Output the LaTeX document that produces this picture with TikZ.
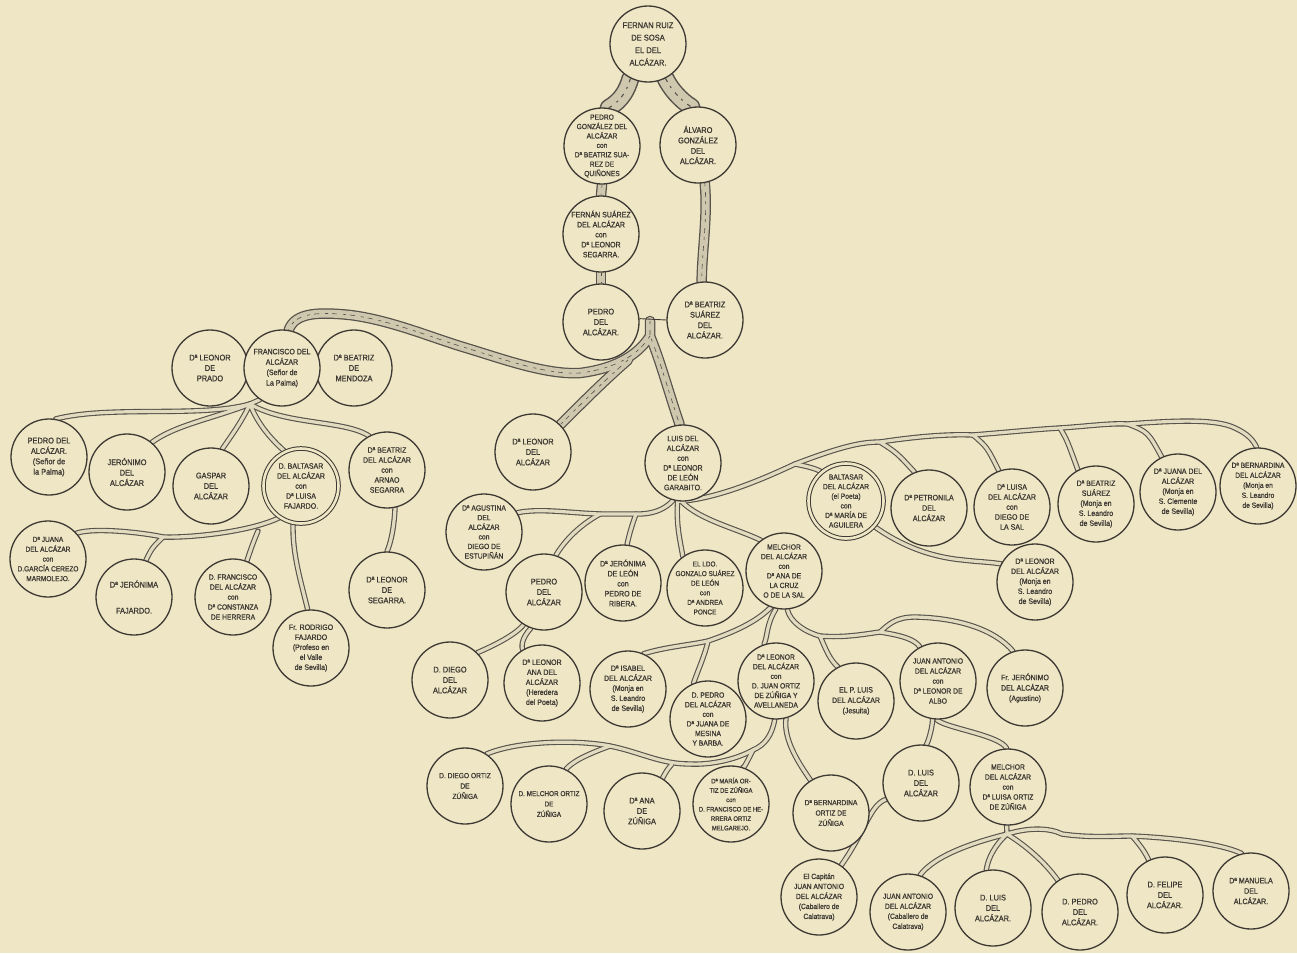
\documentclass[tikz,border=0pt]{standalone}
\usepackage{fontspec}
\setmainfont[FakeStretch=0.9,FakeBold=0.9]{Liberation Sans}
\definecolor{paper}{HTML}{EEE6C4}
\definecolor{ink}{HTML}{3E3934}
\definecolor{bark}{HTML}{57524B}
\definecolor{wood}{HTML}{E2DBC0}
\definecolor{woodd}{HTML}{CFC8AE}
\pgfdeclarelayer{bgl}
\pgfdeclarelayer{brl}
\pgfsetlayers{bgl,brl,main}
\newcommand\pers[4][]{\node[person] (#2) at (#3) {};\node[ptext,#1] (#2t) at (#2.center) {#4};}
\newcommand\perd[4][]{\node[twin] (#2) at (#3) {};\node[ptext,#1] (#2t) at (#2.center) {#4};}
\newcommand\allbranches{%
% trunk
\draw[tk] (fr.243) .. controls (627,90) and (622,100) .. (pg.80);
\draw[tk] (fr.297) .. controls (670,88) and (680,100) .. (al.100);
\draw[md] (pg.270) -- (fs.90);
\draw[md] (fs.270) -- (pd.90);
\draw[md] (al.280) .. controls (708,215) and (702,250) .. (bs.95);
% Pedro + Beatriz
\draw[md] (j0) .. controls (640,352) and (620,368) .. (580,373) .. controls (545,375) and (500,358) .. (463,347) .. controls (430,337) and (390,320) .. (350,315) .. controls (320,312) and (295,312) .. (fa.80);
\draw[md] (650,321) -- (j0) .. controls (660,360) and (668,390) .. (lu.95);
\draw[md] (kJ) .. controls (605,380) and (585,400) .. (la.45);
% Francisco
\draw[tn] (fa.235) -- (kF);
\draw[tn] (kF) .. controls (200,418) and (110,405) .. (sp.80);
\draw[tn] (kF) .. controls (215,418) and (175,425) .. (je.50);
\draw[tn] (kF) .. controls (240,425) and (228,440) .. (ga.73);
\draw[tn] (kF) .. controls (258,425) and (272,440) .. (db.115);
\draw[tn] (kF) .. controls (285,425) and (345,420) .. (ba.118);
% Baltasar
\draw[tn] (db.236) .. controls (250,532) and (190,538) .. (kB) .. controls (145,533) and (95,527) .. (jc.42);
\draw[tn] (kB) .. controls (152,548) .. (jfa.72);
\draw[tn] (258,531) .. controls (252,545) and (250,552) .. (fc.69);
\draw[tn] (db.258) .. controls (292,555) and (302,585) .. (ro.95);
\draw[tn] (ba.282) .. controls (394,530) and (390,545) .. (ls.90);
% Luis
\draw[tn] (lu.255) .. controls (660,515) and (640,514) .. (kL2) .. controls (620,514) and (610,514) .. (kL1) .. controls (570,513) and (540,508) .. (ag.30);
\draw[tn] (kL1) .. controls (580,525) and (565,540) .. (p2.72);
\draw[tn] (kL2) .. controls (632,525) and (629,535) .. (jl.84);
\draw[tn] (lu.262) .. controls (676,525) and (680,540) .. (gl.125);
\draw[tn] (lu.268) .. controls (700,520) and (735,528) .. (me.127);
\draw[tn] (lu.265) .. controls (720,498) and (765,478) .. (r1) .. controls (840,447) and (860,442) .. (r2) .. controls (920,436) and (950,434) .. (r3) .. controls (1010,432) and (1040,429) .. (r4) .. controls (1090,426) and (1110,423) .. (r5) .. controls (1170,421) and (1215,418) .. (1235,428) .. controls (1248,434) and (1253,440) .. (bd.92);
\draw[tn] (r1) .. controls (805,466) and (815,468) .. (bp.130);
\draw[tn] (r2) .. controls (897,453) .. (pe.112);
\draw[tn] (r3) .. controls (987,447) .. (lz.110);
\draw[tn] (r4) .. controls (1067,440) .. (bz.118);
\draw[tn] (r5) .. controls (1148,432) .. (jz.115);
\draw[tn] (bp.318) .. controls (900,545) and (930,557) .. (963,560) .. controls (980,562) and (990,562) .. (lm.152);
% Pedro 2
\draw[tn] (p2.238) .. controls (515,635) and (495,645) .. (dd.45);
\draw[tn] (p2.250) .. controls (520,640) and (522,648) .. (lh.120);
% Melchor
\draw[tn] (me.250) .. controls (758,620) and (740,630) .. (kM1) .. controls (690,645) and (665,647) .. (is.66);
\draw[tn] (kM1) .. controls (705,655) and (698,670) .. (pm.112);
\draw[tn] (me.258) .. controls (766,625) and (768,635) .. (lo.108);
\draw[tn] (me.275) .. controls (790,622) and (805,632) .. (kM2) .. controls (845,638) and (865,634) .. (kM3) .. controls (888,625) and (895,617) .. (915,617) .. controls (960,618) and (995,630) .. (fj.108);
\draw[tn] (kM2) .. controls (826,650) and (830,660) .. (pl.118);
\draw[tn] (kM3) .. controls (905,636) and (915,640) .. (ja.118);
% Leonor + Juan Ortiz
\draw[tn] (lo.268) .. controls (772,735) and (765,745) .. (kO1) .. controls (735,760) and (710,765) .. (kO2) .. controls (660,764) and (640,752) .. (kO4) .. controls (580,740) and (520,740) .. (do.56);
\draw[tn] (kO4) .. controls (585,755) and (572,762) .. (mo.64);
\draw[tn] (kO3) .. controls (667,770) .. (an.58);
\draw[tn] (kO1) .. controls (748,760) and (743,770) .. (ma.72);
\draw[tn] (lo.285) .. controls (783,740) and (800,765) .. (bo.122);
% Juan Antonio
\draw[tn] (ja.262) .. controls (932,730) and (928,742) .. (dl.82);
\draw[tn] (ja.268) .. controls (945,728) and (1000,735) .. (ml.92);
\draw[tn] (dl.205) .. controls (870,805) and (866,830) .. (ca.55);
% Melchor + Luisa Ortiz
\draw[tn] (ml.268) -- (kML);
\draw[tn] (kML) .. controls (975,842) and (935,855) .. (jb.72);
\draw[tn] (kML) .. controls (995,845) and (988,858) .. (l2.100);
\draw[tn] (kML) .. controls (1025,845) and (1045,862) .. (dp.125);
\draw[tn] (kML) .. controls (1030,827) and (1050,828) .. (1062,834) .. controls (1090,838) and (1110,836) .. (kML2) .. controls (1180,838) and (1225,845) .. (mn.104);
\draw[tn] (kML2) .. controls (1140,845) and (1145,852) .. (fe.115);
}
\begin{document}
\begin{tikzpicture}[x=1pt,y=-1pt,
  person/.style={circle, draw=ink, line width=1.3pt, fill=paper, minimum size=76pt, inner sep=0pt},
  twin/.style={circle, draw=ink, double=paper, double distance=2.6pt, line width=1pt, fill=paper, minimum size=75pt, inner sep=0pt},
  ptext/.style={align=center, text=ink, inner sep=0pt, font=\fontsize{8.2}{10.4}\selectfont},
  marr/.style={draw=ink, line width=0.9pt}]
\begin{pgfonlayer}{bgl}
\fill[paper] (0,0) rectangle (1297,953);
\end{pgfonlayer}
\useasboundingbox (0,0) rectangle (1297,953);
% ---- persons
\pers[font=\fontsize{8.4}{12.5}\selectfont]{fr}{648,44}{FERNAN RUIZ\\DE SOSA\\EL DEL\\ALCÁZAR.}
\pers[font=\fontsize{7.4}{9.4}\selectfont]{pg}{602,146}{PEDRO\\GONZÁLEZ DEL\\ALCÁZAR\\con\\Dª BEATRIZ SUA-\\REZ DE\\QUIÑONES}
\pers{al}{698,145}{ÁLVARO\\GONZÁLEZ\\DEL\\ALCÁZAR.}
\pers[font=\fontsize{7.8}{10}\selectfont]{fs}{601,234}{FERNÁN SUÁREZ\\DEL ALCÁZAR\\con\\Dª LEONOR\\SEGARRA.}
\pers{pd}{601,322}{PEDRO\\DEL\\ALCÁZAR.}
\pers{bs}{705,320}{Dª BEATRIZ\\SUÁREZ\\DEL\\ALCÁZAR.}
\pers{lp}{210,368}{Dª LEONOR\\DE\\PRADO}
\pers{bm}{354,368}{Dª BEATRIZ\\DE\\MENDOZA}
\pers[font=\fontsize{7.8}{10.4}\selectfont]{fa}{282,368}{FRANCISCO DEL\\ALCÁZAR\\(Señor de\\La Palma)}
\pers{sp}{49,457}{PEDRO DEL\\ALCÁZAR.\\(Señor de\\la Palma)}
\pers{je}{127,472}{JERÓNIMO\\DEL\\ALCÁZAR}
\pers{ga}{211,486}{GASPAR\\DEL\\ALCÁZAR}
\perd[font=\fontsize{7.8}{10}\selectfont]{db}{301,486}{D. BALTASAR\\DEL ALCÁZAR\\con\\Dª LUISA\\FAJARDO.}
\pers[font=\fontsize{7.8}{10}\selectfont]{ba}{387,470}{Dª BEATRIZ\\DEL ALCÁZAR\\con\\ARNAO\\SEGARRA}
\pers[font=\fontsize{7.3}{9.8}\selectfont]{jc}{48,559}{Dª JUANA\\DEL ALCÁZAR\\con\\D.GARCÍA CEREZO\\MARMOLEJO.}
\pers[font=\fontsize{8.2}{13}\selectfont]{jfa}{134,597}{Dª JERÓNIMA\\\mbox{}\\FAJARDO.}
\pers[font=\fontsize{7.5}{10}\selectfont]{fc}{233,597}{D. FRANCISCO\\DEL ALCÁZAR\\con\\Dª CONSTANZA\\DE HERRERA}
\pers[font=\fontsize{7.8}{10}\selectfont]{ro}{311,648}{Fr. RODRIGO\\FAJARDO\\(Profeso en\\el Valle\\de Sevilla)}
\pers{ls}{387,590}{Dª LEONOR\\DE\\SEGARRA.}
\pers{la}{533,452}{Dª LEONOR\\DEL\\ALCÁZAR}
\pers[font=\fontsize{7.8}{9.8}\selectfont]{lu}{683,463}{LUIS DEL\\ALCÁZAR\\con\\Dª LEONOR\\DE LEÓN\\GARABITO.}
\pers[font=\fontsize{7.5}{9.6}\selectfont]{ag}{484,532}{Dª AGUSTINA\\DEL\\ALCÁZAR\\con\\DIEGO DE\\ESTUPIÑÁN}
\pers{p2}{544,592}{PEDRO\\DEL\\ALCÁZAR}
\pers[font=\fontsize{7.8}{10}\selectfont]{jl}{623,583}{Dª JERÓNIMA\\DE LEÓN\\con\\PEDRO DE\\RIBERA.}
\pers[font=\fontsize{7.1}{9.6}\selectfont]{gl}{705,588}{EL LDO.\\GONZALO SUÁREZ\\DE LEÓN\\con\\Dª ANDREA\\PONCE}
\pers[font=\fontsize{7.5}{9.6}\selectfont]{me}{784,571}{MELCHOR\\DEL ALCÁZAR\\con\\Dª ANA DE\\LA CRUZ\\O DE LA SAL}
\perd[font=\fontsize{7.5}{9.6}\selectfont]{bp}{846,501}{BALTASAR\\DEL ALCÁZAR\\(el Poeta)\\con\\Dª MARÍA DE\\AGUILERA}
\pers[font=\fontsize{7.8}{10.4}\selectfont]{pe}{929,508}{Dª PETRONILA\\DEL\\ALCÁZAR}
\pers[font=\fontsize{7.8}{10}\selectfont]{lz}{1012,507}{Dª LUISA\\DEL ALCÁZAR\\con\\DIEGO DE\\LA SAL}
\pers[font=\fontsize{7.8}{10}\selectfont]{bz}{1096,504}{Dª BEATRIZ\\SUÁREZ\\(Monja en\\S. Leandro\\de Sevilla)}
\pers[font=\fontsize{7.8}{10}\selectfont]{jz}{1178,492}{Dª JUANA DEL\\ALCÁZAR\\(Monja en\\S. Clemente\\de Sevilla)}
\pers[font=\fontsize{7.4}{10}\selectfont]{bd}{1258,486}{Dª BERNARDINA\\DEL ALCÁZAR\\(Monja en\\S. Leandro\\de Sevilla)}
\pers[font=\fontsize{7.8}{10}\selectfont]{lm}{1035,582}{Dª LEONOR\\DEL ALCÁZAR\\(Monja en\\S. Leandro\\de Sevilla)}
\pers{dd}{450,680}{D. DIEGO\\DEL\\ALCÁZAR}
\pers[font=\fontsize{7.8}{10}\selectfont]{lh}{542,683}{Dª LEONOR\\ANA DEL\\ALCÁZAR\\(Heredera\\del Poeta)}
\pers[font=\fontsize{7.8}{10}\selectfont]{is}{628,689}{Dª ISABEL\\DEL ALCÁZAR\\(Monja en\\S. Leandro\\de Sevilla)}
\pers[font=\fontsize{7.5}{9.6}\selectfont]{pm}{708,719}{D. PEDRO\\DEL ALCÁZAR\\con\\Dª JUANA DE\\MESINA\\Y BARBA.}
\pers[font=\fontsize{7.5}{9.6}\selectfont]{lo}{776,681}{Dª LEONOR\\DEL ALCÁZAR\\con\\D. JUAN ORTIZ\\DE ZÚÑIGA Y\\AVELLANEDA}
\pers[font=\fontsize{7.8}{10.4}\selectfont]{pl}{856,701}{EL P. LUIS\\DEL ALCÁZAR\\(Jesuita)}
\pers[font=\fontsize{7.5}{10}\selectfont]{ja}{938,681}{JUAN ANTONIO\\DEL ALCÁZAR\\con\\Dª LEONOR DE\\ALBO}
\pers[font=\fontsize{7.8}{10.4}\selectfont]{fj}{1025,688}{Fr. JERÓNIMO\\DEL ALCÁZAR\\(Agustino)}
\pers[font=\fontsize{7.4}{10.4}\selectfont]{do}{465,786}{D. DIEGO ORTIZ\\DE\\ZÚÑIGA}
\pers[font=\fontsize{7.1}{10.4}\selectfont]{mo}{549,804}{D. MELCHOR ORTIZ\\DE\\ZÚÑIGA}
\pers{an}{642,811}{Dª ANA\\DE\\ZÚÑIGA}
\pers[font=\fontsize{6.6}{9.4}\selectfont]{ma}{731,804}{Dª MARÍA OR-\\TIZ DE ZÚÑIGA\\con\\D. FRANCISCO DE HE-\\RRERA ORTIZ\\MELGAREJO.}
\pers[font=\fontsize{7.4}{10.4}\selectfont]{bo}{831,813}{Dª BERNARDINA\\ORTIZ DE\\ZÚÑIGA}
\pers{dl}{921,783}{D. LUIS\\DEL\\ALCÁZAR}
\pers[font=\fontsize{7.5}{10}\selectfont]{ml}{1008,787}{MELCHOR\\DEL ALCÁZAR\\con\\Dª LUISA ORTIZ\\DE ZÚÑIGA}
\pers[font=\fontsize{7.5}{10}\selectfont]{ca}{819,897}{El Capitán\\JUAN ANTONIO\\DEL ALCÁZAR\\(Caballero de\\Calatrava)}
\pers[font=\fontsize{7.5}{10}\selectfont]{jb}{908,912}{JUAN ANTONIO\\DEL ALCÁZAR\\(Caballero de\\Calatrava)}
\pers{l2}{993,908}{D. LUIS\\DEL\\ALCÁZAR.}
\pers{dp}{1080,912}{D. PEDRO\\DEL\\ALCÁZAR.}
\pers{fe}{1165,895}{D. FELIPE\\DEL\\ALCÁZAR.}
\pers[font=\fontsize{7.8}{10.4}\selectfont]{mn}{1251,891}{Dª MANUELA\\DEL\\ALCÁZAR.}
% ---- junctions
\coordinate (j0) at (650,336);
\coordinate (kJ) at (628,360);
\coordinate (kF) at (250,404);
\coordinate (kB) at (163,537);
\coordinate (kL1) at (600,514);
\coordinate (kL2) at (636,514);
\coordinate (r1) at (795,464);
\coordinate (r2) at (880,442);
\coordinate (r3) at (973,435);
\coordinate (r4) at (1060,428);
\coordinate (r5) at (1128,424);
\coordinate (kM1) at (708,641);
\coordinate (kM2) at (820,636);
\coordinate (kM3) at (880,632);
\coordinate (kO1) at (753,750);
\coordinate (kO2) at (690,764);
\coordinate (kO3) at (672,764);
\coordinate (kO4) at (610,746);
\coordinate (kML) at (1007,834);
\coordinate (kML2) at (1132,836);
\draw[marr] (pd.5) -- (bs.180);
% ---- branches
\begin{pgfonlayer}{brl}
\begin{scope}[tk/.style={draw=bark, line width=18pt, line cap=round, line join=round},
  md/.style={draw=bark, line width=10.5pt, line cap=round, line join=round},
  tn/.style={draw=bark, line width=5.4pt, line cap=round, line join=round}]
\allbranches
\end{scope}
\begin{scope}[tk/.style={draw=woodd, line width=15pt, line cap=round, line join=round},
  md/.style={draw=woodd, line width=8pt, line cap=round, line join=round},
  tn/.style={draw=wood, line width=3.2pt, line cap=round, line join=round}]
\allbranches
\end{scope}
\begin{scope}[tk/.style={draw=bark, line width=1.1pt, dash pattern=on 4pt off 5pt on 2pt off 6pt},
  md/.style={draw=bark, line width=0.6pt, dash pattern=on 3pt off 6pt on 5pt off 4pt},
  tn/.style={draw=none}]
\allbranches
\end{scope}
\end{pgfonlayer}
\end{tikzpicture}
\end{document}
